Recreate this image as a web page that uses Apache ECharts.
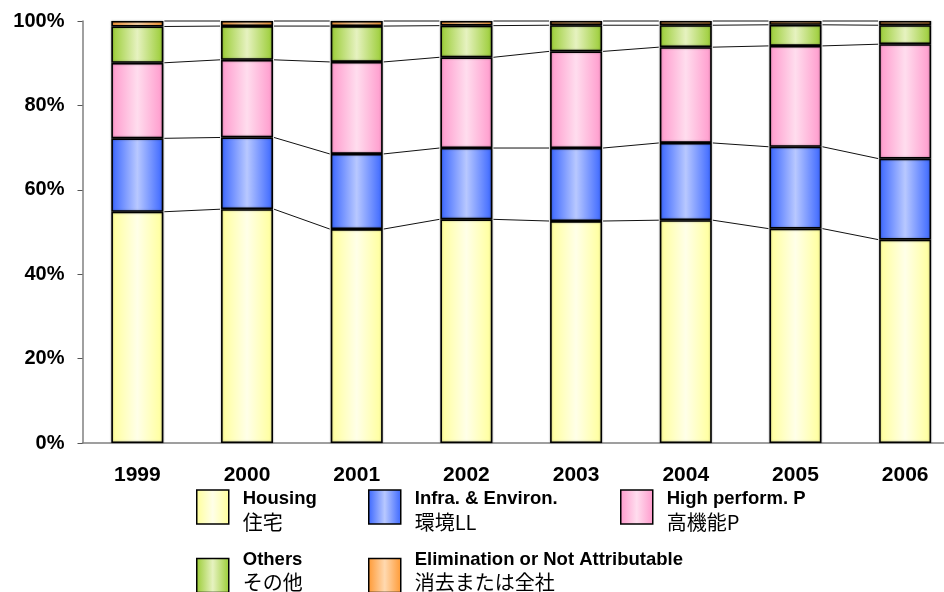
<!DOCTYPE html>
<html>
<head>
<meta charset="utf-8">
<script src="https://cdn.jsdelivr.net/npm/echarts@6/dist/echarts.min.js"></script>
<style>
html,body{margin:0;padding:0;background:#fff;}
#chart{width:944px;height:592px;}
</style>
</head>
<body>
<div id="chart"></div>
<script>
// ---- data (percent share) ----
const years = ['1999','2000','2001','2002','2003','2004','2005','2006'];
const housing     = [54.8, 55.4, 50.7, 53.0, 52.6, 52.8, 50.8, 48.2];
const infra       = [17.4, 17.0, 17.8, 16.9, 17.3, 18.3, 19.4, 19.2];
const highPerf    = [17.9, 18.4, 21.8, 21.5, 22.9, 22.7, 23.9, 27.1];
const others      = [8.6, 8.0, 8.5, 7.5, 6.2, 5.2, 5.0, 4.5];
const elimination = [1.3, 1.2, 1.2, 1.1, 1.0, 1.0, 0.9, 1.0];
const seriesNamesEn = ['Housing', 'Infra. & Environ.', 'High perform. P', 'Others', 'Elimination or Not Attributable'];
const seriesNamesJa = ['住宅', '環境LL', '高機能P', 'その他', '消去または全社'];
const yTicks = [0, 20, 40, 60, 80, 100];

const seriesValues = [housing, infra, highPerf, others, elimination];
const palettes = [
  ['#FFFF99', '#FFFFE8'],
  ['#3A66FF', '#B8C8FF'],
  ['#FF99CC', '#FFDDEE'],
  ['#99CC33', '#E6F2C0'],
  ['#FF9933', '#FFD9B0']
];
function grad(p) {
  return new echarts.graphic.LinearGradient(0, 0, 1, 0, [
    {offset: 0, color: p[0]},
    {offset: 0.5, color: p[1]},
    {offset: 1, color: p[0]}
  ]);
}

const BAR_W = 52;
const barSeries = seriesValues.map((vals, k) => ({
  type: 'bar',
  name: seriesNamesEn[k],
  stack: 'total',
  barWidth: BAR_W,
  data: vals,
  itemStyle: {
    color: grad(palettes[k]),
    borderColor: '#000',
    borderWidth: 1.6,
    shadowBlur: 2,
    shadowColor: 'rgba(0,0,0,0.35)'
  },
  emphasis: {disabled: true},
  z: 3
}));

// cumulative tops for series (connector) lines
const lineData = [];
let cum = years.map(() => 0);
seriesValues.forEach(vals => {
  cum = cum.map((c, i) => c + vals[i]);
  for (let i = 0; i < years.length - 1; i++) {
    lineData.push([i, cum[i], cum[i + 1]]);
  }
});

const connector = {
  type: 'custom',
  name: 'connectors',
  data: lineData,
  encode: {x: 0, y: 1},
  z: 2,
  silent: true,
  renderItem: function (params, api) {
    const i = api.value(0);
    const p1 = api.coord([i, api.value(1)]);
    const p2 = api.coord([i + 1, api.value(2)]);
    const half = BAR_W / 2 + 1;
    return {
      type: 'line',
      shape: {x1: p1[0] + half, y1: p1[1], x2: p2[0] - half, y2: p2[1]},
      style: {stroke: '#111', lineWidth: 1}
    };
  }
};

// row 1: spacer above text; row 2: spacer below text (matches reference offsets)
const legendPos = [
  {left: 196, top: 482, spacer: 'top'},
  {left: 368, top: 482, spacer: 'top'},
  {left: 620, top: 482, spacer: 'top'},
  {left: 196, top: 550, spacer: 'bottom'},
  {left: 368, top: 550, spacer: 'bottom'}
];
const legends = legendPos.map((p, k) => ({
  data: [seriesNamesEn[k]],
  left: p.left,
  top: p.top,
  padding: 0,
  orient: 'horizontal',
  itemWidth: 32,
  itemHeight: 34,
  selectedMode: false,
  icon: 'rect',
  itemStyle: {borderColor: '#000', borderWidth: 1.5},
  formatter: function (name) {
    const txt = '{en|' + name + '}\n{ja|' + seriesNamesJa[seriesNamesEn.indexOf(name)] + '}';
    return p.spacer === 'top' ? '{sp| }\n' + txt : txt + '\n{sp| }';
  },
  textStyle: {
    rich: {
      sp: {fontSize: 4, lineHeight: 8, padding: [0, 0, 0, 9]},
      en: {fontFamily: '"Liberation Sans", Arial, sans-serif', fontWeight: 'bold', fontSize: 18.5, lineHeight: 22, color: '#000', padding: [0, 0, 0, 9]},
      ja: {fontFamily: '"Noto Sans CJK JP", sans-serif', fontSize: 20, lineHeight: 24, color: '#000', padding: [0, 0, 0, 9]}
    }
  }
}));

const chart = echarts.init(document.getElementById('chart'), null, {renderer: 'canvas'});
chart.setOption({
  animation: false,
  backgroundColor: '#fff',
  grid: {left: 82.5, right: -16, top: 21, bottom: 149, containLabel: false, outerBoundsMode: 'none'},
  legend: legends,
  xAxis: {
    type: 'category',
    data: years,
    boundaryGap: true,
    axisLine: {lineStyle: {color: '#808080', width: 1.5}},
    axisTick: {inside: true, length: 7, lineStyle: {color: '#555', width: 1}},
    axisLabel: {
      margin: 22,
      color: '#000',
      fontFamily: '"Liberation Sans", Arial, sans-serif',
      fontWeight: 'bold',
      fontSize: 21
    },
    splitLine: {show: false}
  },
  yAxis: {
    type: 'value',
    min: yTicks[0],
    max: yTicks[yTicks.length - 1],
    interval: 20,
    axisLine: {show: true, lineStyle: {color: '#808080', width: 1.5}},
    axisTick: {show: true, inside: false, length: 5, lineStyle: {color: '#555'}},
    axisLabel: {
      margin: 18,
      color: '#000',
      fontFamily: '"Liberation Sans", Arial, sans-serif',
      fontWeight: 'bold',
      fontSize: 20,
      formatter: '{value}%'
    },
    splitLine: {show: false}
  },
  series: barSeries.concat([connector])
});
</script>
</body>
</html>
